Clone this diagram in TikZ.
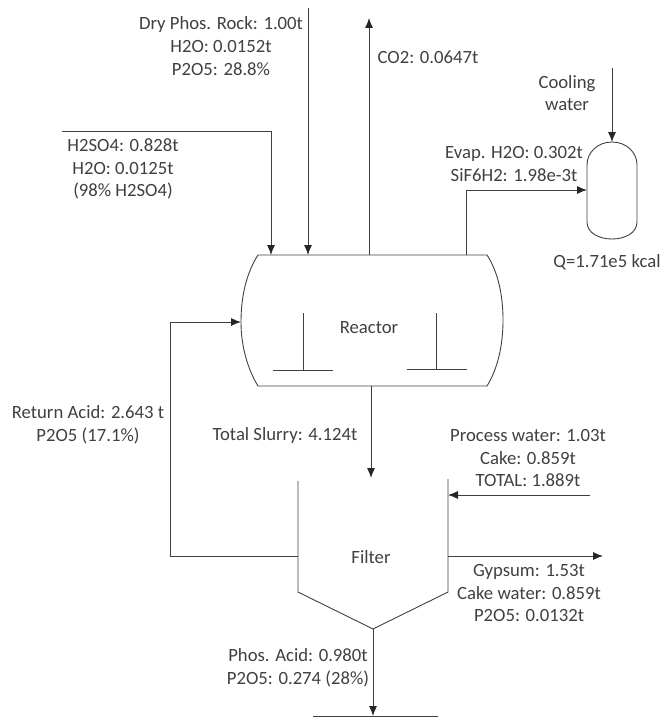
\documentclass[tikz,border=0pt]{standalone}
\usepackage{fontspec}
\setmainfont{Carlito}
\usetikzlibrary{arrows.meta}
\definecolor{ink}{gray}{0.25}
\tikzset{
  x=1pt,y=-1pt,
  line/.style={draw=ink,line width=0.9pt},
  flow/.style={line,-{Latex[length=10pt,width=8pt,color=black!85]}},
  lbl/.style={text=ink,font=\fontsize{18.7}{22.7}\selectfont,align=center,inner sep=0pt},
}
\begin{document}
\begin{tikzpicture}
\useasboundingbox (0,0) rectangle (663,717);
\node[lbl] (reactor) at (369,328) {Reactor};
\node[lbl] (filter) at (371,557) {Filter};
\node[lbl] (dry) at (221,46) {Dry Phos. Rock: 1.00t\\H2O: 0.0152t\\P2O5: 28.8\%};
\node[lbl] (co2) at (428,57) {CO2: 0.0647t};
\node[lbl] (cool) at (567,93) {Cooling\\water};
\node[lbl] (h2so4) at (123,169) {H2SO4: 0.828t\\H2O: 0.0125t\\(98\% H2SO4)};
\node[lbl] (evap) at (514,164) {Evap. H2O: 0.302t\\SiF6H2: 1.98e-3t};
\node[lbl] (q) at (607,262) {Q=1.71e5 kcal};
\node[lbl] (ret) at (88,425) {Return Acid: 2.643 t\\P2O5 (17.1\%)};
\node[lbl] (slurry) at (285,436) {Total Slurry: 4.124t};
\node[lbl] (proc) at (528,458) {Process water: 1.03t\\Cake: 0.859t\\TOTAL: 1.889t};
\node[lbl] (gyp) at (529,593) {Gypsum: 1.53t\\Cake water: 0.859t\\P2O5: 0.0132t};
\node[lbl] (acid) at (298,668) {Phos. Acid: 0.980t\\P2O5: 0.274 (28\%)};
\coordinate (rtl) at (258,255);
\coordinate (rtr) at (487,255);
\coordinate (rbl) at (258,386);
\coordinate (rbr) at (487,386);
\coordinate (rw) at (241,322);
\coordinate (ftl) at (298,481);
\coordinate (ftr) at (448,479);
\coordinate (fbl) at (298,592);
\coordinate (fbr) at (448,592);
\coordinate (apex) at (373,629);
\coordinate (cw) at (587,190);
\coordinate (ctop) at (612,142);
\coordinate (r1) at (271,255);
\coordinate (r2) at (308,255);
\coordinate (r3) at (369,255);
\coordinate (r4) at (466,255);
\coordinate (r5) at (371,386);
\coordinate (f1) at (298,556);
\coordinate (f2) at (448,495);
\coordinate (f3) at (448,556);
\coordinate (boxtop) at (373,716);
\coordinate (in1) at (308,8);
\coordinate (in2) at (62,131);
\coordinate (out1) at (369,18);
\coordinate (in3) at (612,68);
\coordinate (in4) at (590,495);
\coordinate (out2) at (603,556);
\draw[line] (rtl) -- (rtr) .. controls (498,272) and (503,295) .. (503,320) .. controls (503,345) and (498,368) .. (rbr) -- (rbl) .. controls (247,368) and (241,345) .. (rw) .. controls (241,295) and (247,272) .. (rtl);
\draw[line] (303,313) -- (303,370) (273,370) -- (333,370);
\draw[line] (436,313) -- (436,369) (407,369) -- (467,369);
\draw[line] (ftl) -- (fbl) -- (apex) -- (fbr) -- (ftr);
\draw[line] (587,165) .. controls (587,152) and (598,142) .. (ctop) .. controls (626,142) and (637,152) .. (637,165) -- (637,222) .. controls (637,233) and (625,239) .. (612,239) .. controls (599,239) and (587,233) .. (587,222) -- cycle;
\draw[line] (313,717) -- (313,716) -- (437,716) -- (437,717);
\draw[flow] (in1) -- (r2);
\draw[flow] (in2) -| (r1);
\draw[flow] (r3) -- (out1);
\draw[flow] (r4) |- (cw);
\draw[flow] (in3) -- (ctop);
\draw[flow] (f1) -- (170,556) |- (rw);
\draw[flow] (r5) -- (371,478);
\draw[flow] (in4) -- (f2);
\draw[flow] (f3) -- (out2);
\draw[flow] (apex) -- (boxtop);
\end{tikzpicture}
\end{document}
